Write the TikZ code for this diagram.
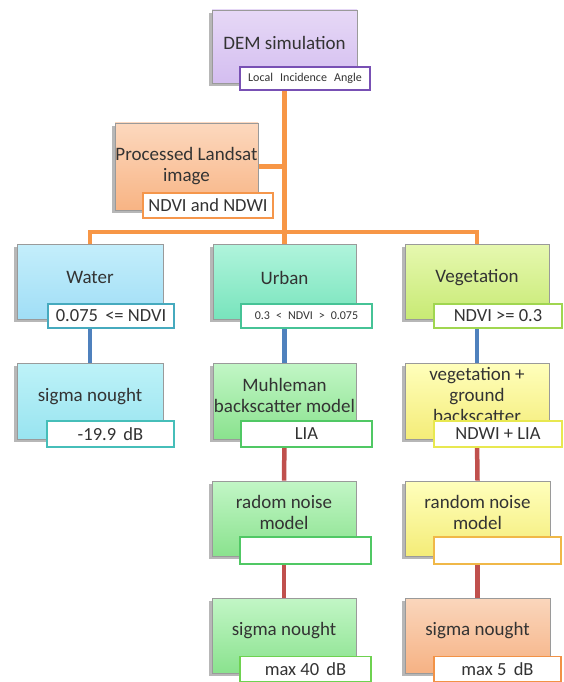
\documentclass[tikz,border=0pt]{standalone}
\usepackage{fontspec}
\setmainfont{Carlito}
\usetikzlibrary{shadows,backgrounds}
\pgfdeclarelayer{paper}
\pgfsetlayers{paper,background,main}
\definecolor{txt}{HTML}{333333}
\definecolor{boxline}{HTML}{9A9A9A}
\definecolor{conor}{HTML}{F79646}
\definecolor{conbl}{HTML}{4F81BD}
\definecolor{conrd}{HTML}{C0504D}
% fills (top / bottom) and label borders
\definecolor{demT}{HTML}{E6D8F6}\definecolor{demB}{HTML}{D4BEF0}\definecolor{demL}{HTML}{7850B4}
\definecolor{lanT}{HTML}{FCD8BE}\definecolor{lanB}{HTML}{F8B484}\definecolor{lanL}{HTML}{F5964B}
\definecolor{watT}{HTML}{C4EEFB}\definecolor{watB}{HTML}{A0DEF6}\definecolor{watL}{HTML}{46AABE}
\definecolor{urbT}{HTML}{B0F4DC}\definecolor{urbB}{HTML}{78E4BC}\definecolor{urbL}{HTML}{46C396}
\definecolor{vegT}{HTML}{E6F8B0}\definecolor{vegB}{HTML}{C8EA74}\definecolor{vegL}{HTML}{A0D650}
\definecolor{wsgT}{HTML}{BEF2F8}\definecolor{wsgB}{HTML}{98E4F0}\definecolor{wsgL}{HTML}{46BEB9}
\definecolor{grnT}{HTML}{C2F6C6}\definecolor{grnB}{HTML}{8AE28E}\definecolor{grnL}{HTML}{50C864}
\definecolor{yelT}{HTML}{FFFFBC}\definecolor{yelB}{HTML}{F4EC78}\definecolor{yelL}{HTML}{E8E850}
\definecolor{ynsL}{HTML}{F0B848}
\definecolor{usgL}{HTML}{6ED250}
\definecolor{orgT}{HTML}{FAD6BC}\definecolor{orgB}{HTML}{F6B284}\definecolor{orgL}{HTML}{F29246}
\tikzset{
  box/.style={draw=boxline, line width=0.8pt, rectangle, inner sep=0pt,
    drop shadow={shadow xshift=-3pt, shadow yshift=-3pt, opacity=0.4, fill=black!70}},
  boxtext/.style={align=center, font=\fontsize{19}{21}\selectfont, text=txt, inner sep=0pt},
  lab/.style={draw=#1, line width=1.6pt, fill=white, rectangle, align=center,
    font=\fontsize{18.5}{20}\selectfont, text=txt, minimum height=24pt, inner sep=1pt},
  small/.style={font=\fontsize{12}{14}\selectfont},
  conline/.style={draw=#1, line width=4.5pt},
}
\begin{document}
\begin{tikzpicture}[x=1pt,y=-1pt]
\begin{pgfonlayer}{paper}
\fill[white] (0,0) rectangle (563,682);
\end{pgfonlayer}
\useasboundingbox (0,0) rectangle (563,682);
% ---- DEM
\node[box, top color=demT, bottom color=demB, minimum width=145pt, minimum height=73pt] (dem) at (284.5,46.5) {};
\node[boxtext] (demt) at ([yshift=4pt]dem.center) {DEM simulation};
\node[lab=demL, small, minimum width=130pt, minimum height=23pt] (demlab) at (305,78.5) {Local\hspace{0.6em}Incidence\hspace{0.6em}Angle};
% ---- Landsat
\node[box, top color=lanT, bottom color=lanB, minimum width=143pt, minimum height=87pt] (land) at (186.5,166.5) {};
\node[boxtext] (landt) at ([yshift=0pt]land.center) {Processed Landsat\\image};
\node[lab=lanL, minimum width=130pt, minimum height=25pt] (landlab) at (208,205.5) {NDVI and NDWI};

% row 1
\node[box, top color=watT, bottom color=watB, minimum width=146pt, minimum height=75pt] (water) at (90,281.5) {};
\node[boxtext] (watert) at ([yshift=4pt]water.center) {Water};
\node[lab=watL, minimum width=126pt] (waterlab) at (111,316) {0.075 \,{<}= NDVI};

\node[box, top color=urbT, bottom color=urbB, minimum width=143pt, minimum height=75pt] (urban) at (284.5,281.5) {};
\node[boxtext] (urbant) at ([yshift=4pt]urban.center) {Urban};
\node[lab=urbL, small, minimum width=131pt] (urbanlab) at (306.5,316) {0.3\hspace{0.5em}{<}\hspace{0.5em}NDVI\hspace{0.5em}{>}\hspace{0.5em}0.075};

\node[box, top color=vegT, bottom color=vegB, minimum width=144pt, minimum height=75pt] (veg) at (477,281.5) {};
\node[boxtext] (vegt) at ([yshift=4pt]veg.center) {Vegetation};
\node[lab=vegL, minimum width=128pt] (veglab) at (498,316) {NDVI {>}= 0.3};

% row 2
\node[box, top color=wsgT, bottom color=wsgB, minimum width=146pt, minimum height=76pt] (wsig) at (90,401) {};
\node[boxtext] (wsigt) at ([yshift=4pt]wsig.center) {sigma nought};
\node[lab=wsgL, minimum width=127pt, minimum height=26pt] (wsiglab) at (110.5,434) {-19.9 \,dB};

\node[box, top color=grnT, bottom color=grnB, minimum width=143pt, minimum height=76pt] (muhl) at (284.5,401) {};
\node[boxtext] (muhlt) at ([yshift=6pt]muhl.center) {Muhleman\\backscatter model};
\node[lab=grnL, minimum width=131pt, minimum height=26pt] (muhllab) at (306.5,434) {LIA};

\node[box, top color=yelT, bottom color=yelB, minimum width=144pt, minimum height=76pt] (vgb) at (477,401) {};
\node[boxtext] (vgbt) at ([yshift=6pt]vgb.center) {vegetation +\\ground\\backscatter};
\node[lab=yelL, minimum width=128pt, minimum height=26pt] (vgblab) at (498,434) {NDWI + LIA};

% row 3
\node[box, top color=grnT, bottom color=grnB, minimum width=144pt, minimum height=75pt] (unoise) at (284,518.5) {};
\node[boxtext] (unoiset) at ([yshift=6pt]unoise.center) {radom noise\\model};
\node[lab=grnL, minimum width=131pt, minimum height=27pt] (unoiselab) at (305.5,550.5) {};

\node[box, top color=yelT, bottom color=yelB, minimum width=145pt, minimum height=75pt] (vnoise) at (477.5,518.5) {};
\node[boxtext] (vnoiset) at ([yshift=6pt]vnoise.center) {random noise\\model};
\node[lab=ynsL, minimum width=127pt, minimum height=27pt] (vnoiselab) at (497.5,550.5) {};

% row 4
\node[box, top color=grnT, bottom color=grnB, minimum width=144pt, minimum height=75pt] (usig) at (284,635.5) {};
\node[boxtext] (usigt) at ([yshift=5pt]usig.center) {sigma nought};
\node[lab=usgL, minimum width=131pt, minimum height=25pt] (usiglab) at (305.5,669) {max 40 \,dB};

\node[box, top color=orgT, bottom color=orgB, minimum width=145pt, minimum height=75pt] (vsig) at (477.5,635.5) {};
\node[boxtext] (vsigt) at ([yshift=5pt]vsig.center) {sigma nought};
\node[lab=orgL, minimum width=127pt, minimum height=25pt] (vsiglab) at (497.5,669) {max 5 \,dB};

% ---- connectors
\coordinate (hub) at (284.5,232);
\begin{scope}[on background layer]
\draw[conline=conor] (dem.south) -- (hub);
\draw[conline=conor] (land.east) -- (land.east -| hub);
\draw[conline=conor] (water.north) |- (hub) -| (veg.north);
\draw[conline=conor] (hub) -- (urban.north);
\draw[conline=conbl] (water.south) -- (wsig.north);
\draw[conline=conbl] (urban.south) -- (muhl.north);
\draw[conline=conbl] (veg.south) -- (vgb.north);
\draw[conline=conrd] (muhl.south) -- (unoise.north);
\draw[conline=conrd] (unoise.south) -- (usig.north);
\draw[conline=conrd] (vgb.south) -- (vnoise.north);
\draw[conline=conrd] (vnoise.south) -- (vsig.north);
\end{scope}
\end{tikzpicture}
\end{document}
